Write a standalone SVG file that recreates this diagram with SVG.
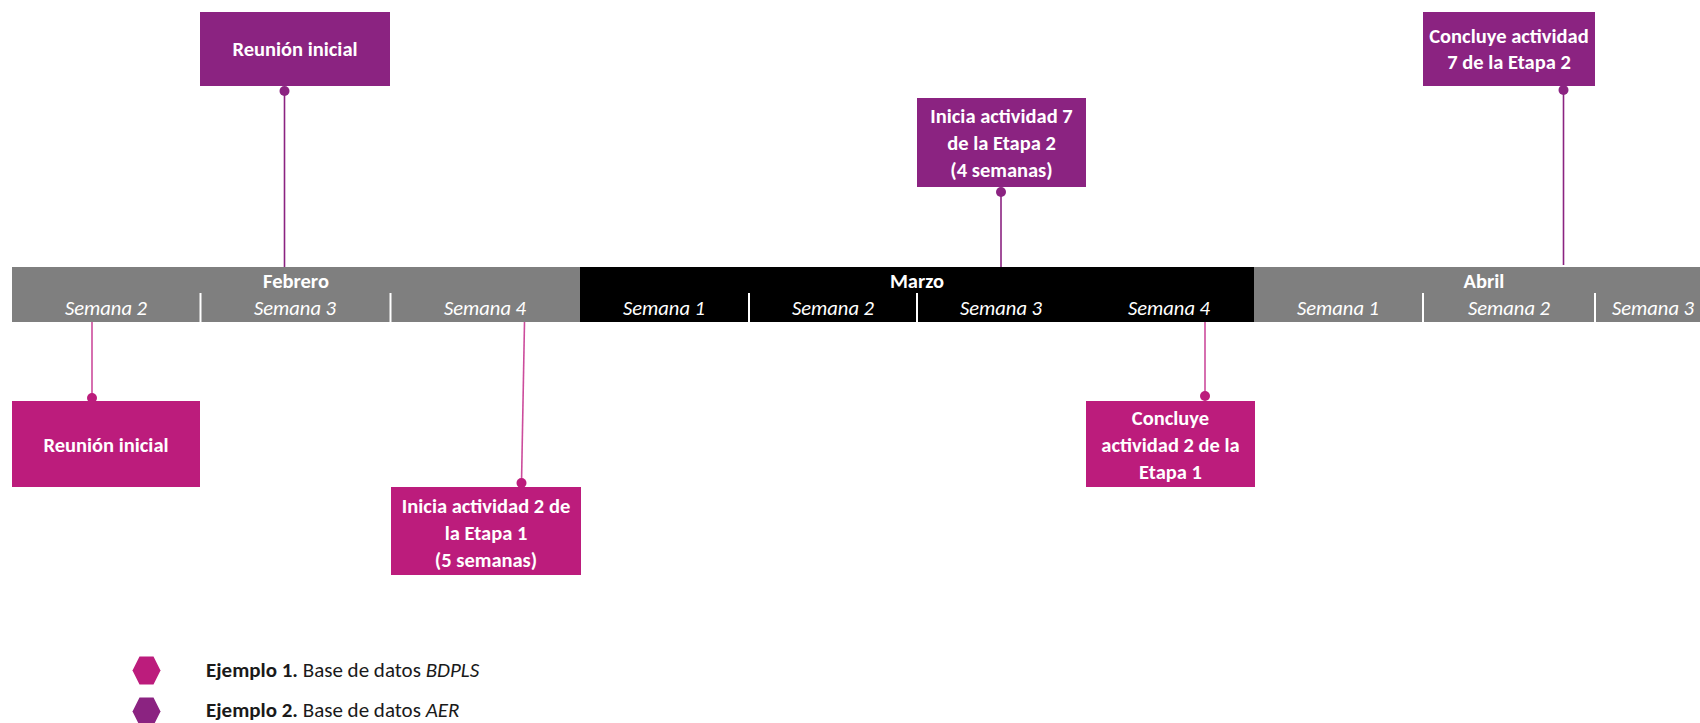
<svg xmlns="http://www.w3.org/2000/svg" width="1700" height="723" viewBox="0 0 1700 723">
<style>
  text { font-family: Carlito, Calibri, Lato, "Open Sans", sans-serif; }
  .month { fill: #ffffff; font-size: 20.5px; font-weight: bold; text-anchor: middle; }
  .week { fill: #ffffff; font-size: 20.5px; font-style: italic; text-anchor: middle; }
  .sep { stroke: #ffffff; stroke-width: 2; }
  .lbl { fill: #ffffff; font-size: 20.5px; font-weight: bold; text-anchor: middle; }
  .boxP { fill: #8B2381; }
  .boxM { fill: #BC1C7C; }
  .lineP { stroke: #8B2381; stroke-width: 1.6; fill: none; }
  .lineM { stroke: #CC4C9C; stroke-width: 1.6; fill: none; }
  .dotP { fill: #8B2381; }
  .dotM { fill: #BC1C7C; }
  .leg { fill: #1a1a1a; font-size: 21px; }
</style>
<rect width="1700" height="723" fill="#ffffff"/>

<g id="timeline">
  <rect x="12" y="267" width="568" height="55" fill="#7F7F7F"/>
  <rect x="580" y="267" width="674" height="55" fill="#000000"/>
  <rect x="1254" y="267" width="446" height="55" fill="#7F7F7F"/>
  <text class="month" x="296" y="288">Febrero</text>
  <text class="month" x="917" y="288">Marzo</text>
  <text class="month" x="1484" y="288">Abril</text>
  <line class="sep" x1="200.5" y1="293" x2="200.5" y2="322"/>
  <line class="sep" x1="390.5" y1="293" x2="390.5" y2="322"/>
  <line class="sep" x1="749" y1="293" x2="749" y2="322"/>
  <line class="sep" x1="917" y1="293" x2="917" y2="322"/>
  <line class="sep" x1="1423" y1="293" x2="1423" y2="322"/>
  <line class="sep" x1="1595" y1="293" x2="1595" y2="322"/>
  <text class="week" x="106" y="315">Semana 2</text>
  <text class="week" x="295" y="315">Semana 3</text>
  <text class="week" x="485" y="315">Semana 4</text>
  <text class="week" x="664" y="315">Semana 1</text>
  <text class="week" x="833" y="315">Semana 2</text>
  <text class="week" x="1001" y="315">Semana 3</text>
  <text class="week" x="1169" y="315">Semana 4</text>
  <text class="week" x="1338" y="315">Semana 1</text>
  <text class="week" x="1509" y="315">Semana 2</text>
  <text class="week" x="1653" y="315">Semana 3</text>
</g>

<g id="connectors">
  <line class="lineP" x1="284.5" y1="91" x2="284.5" y2="267"/>
  <line class="lineP" x1="1001" y1="192" x2="1001" y2="267"/>
  <line class="lineP" x1="1563.5" y1="90" x2="1563.5" y2="265"/>
  <line class="lineM" x1="92" y1="322" x2="92" y2="398"/>
  <line class="lineM" x1="524.5" y1="322" x2="521.5" y2="483"/>
  <line class="lineM" x1="1205" y1="322" x2="1205" y2="396"/>
  <circle class="dotP" cx="284.5" cy="91" r="5"/>
  <circle class="dotP" cx="1001" cy="192" r="5"/>
  <circle class="dotP" cx="1563.5" cy="90" r="5"/>
  <circle class="dotM" cx="92" cy="398" r="5"/>
  <circle class="dotM" cx="521.5" cy="483" r="5"/>
  <circle class="dotM" cx="1205" cy="396" r="5"/>
</g>

<g id="n1">
  <rect class="boxP" x="200" y="12" width="190" height="74"/>
  <text class="lbl" x="295" y="56">Reunión inicial</text>
</g>
<g id="n2">
  <rect class="boxP" x="917" y="98" width="169" height="89"/>
  <text class="lbl" x="1001.5" y="123">Inicia actividad 7</text>
  <text class="lbl" x="1001.5" y="150">de la Etapa 2</text>
  <text class="lbl" x="1001.5" y="177">(4 semanas)</text>
</g>
<g id="n3">
  <rect class="boxP" x="1423" y="12" width="172" height="74"/>
  <text class="lbl" x="1509" y="42.5">Concluye actividad</text>
  <text class="lbl" x="1509" y="69">7 de la Etapa 2</text>
</g>
<g id="n4">
  <rect class="boxM" x="12" y="401" width="188" height="86"/>
  <text class="lbl" x="106" y="451.5">Reunión inicial</text>
</g>
<g id="n5">
  <rect class="boxM" x="391" y="487" width="190" height="88"/>
  <text class="lbl" x="486" y="512.5">Inicia actividad 2 de</text>
  <text class="lbl" x="486" y="539.5">la Etapa 1</text>
  <text class="lbl" x="486" y="566.5">(5 semanas)</text>
</g>
<g id="n6">
  <rect class="boxM" x="1086" y="401" width="169" height="86"/>
  <text class="lbl" x="1170.5" y="425">Concluye</text>
  <text class="lbl" x="1170.5" y="452">actividad 2 de la</text>
  <text class="lbl" x="1170.5" y="478.5">Etapa 1</text>
</g>

<g id="legend">
  <polygon points="132.5,670.5 139.5,656.5 153.5,656.5 160.5,670.5 153.5,684.5 139.5,684.5" fill="#BC1C7C"/>
  <polygon points="132.5,711.5 139.5,697.5 153.5,697.5 160.5,711.5 153.5,725.5 139.5,725.5" fill="#8B2381"/>
  <text class="leg" x="206" y="677"><tspan font-weight="bold">Ejemplo 1.</tspan> Base de datos <tspan font-style="italic">BDPLS</tspan></text>
  <text class="leg" x="206" y="717"><tspan font-weight="bold">Ejemplo 2.</tspan> Base de datos <tspan font-style="italic">AER</tspan></text>
</g>
</svg>
